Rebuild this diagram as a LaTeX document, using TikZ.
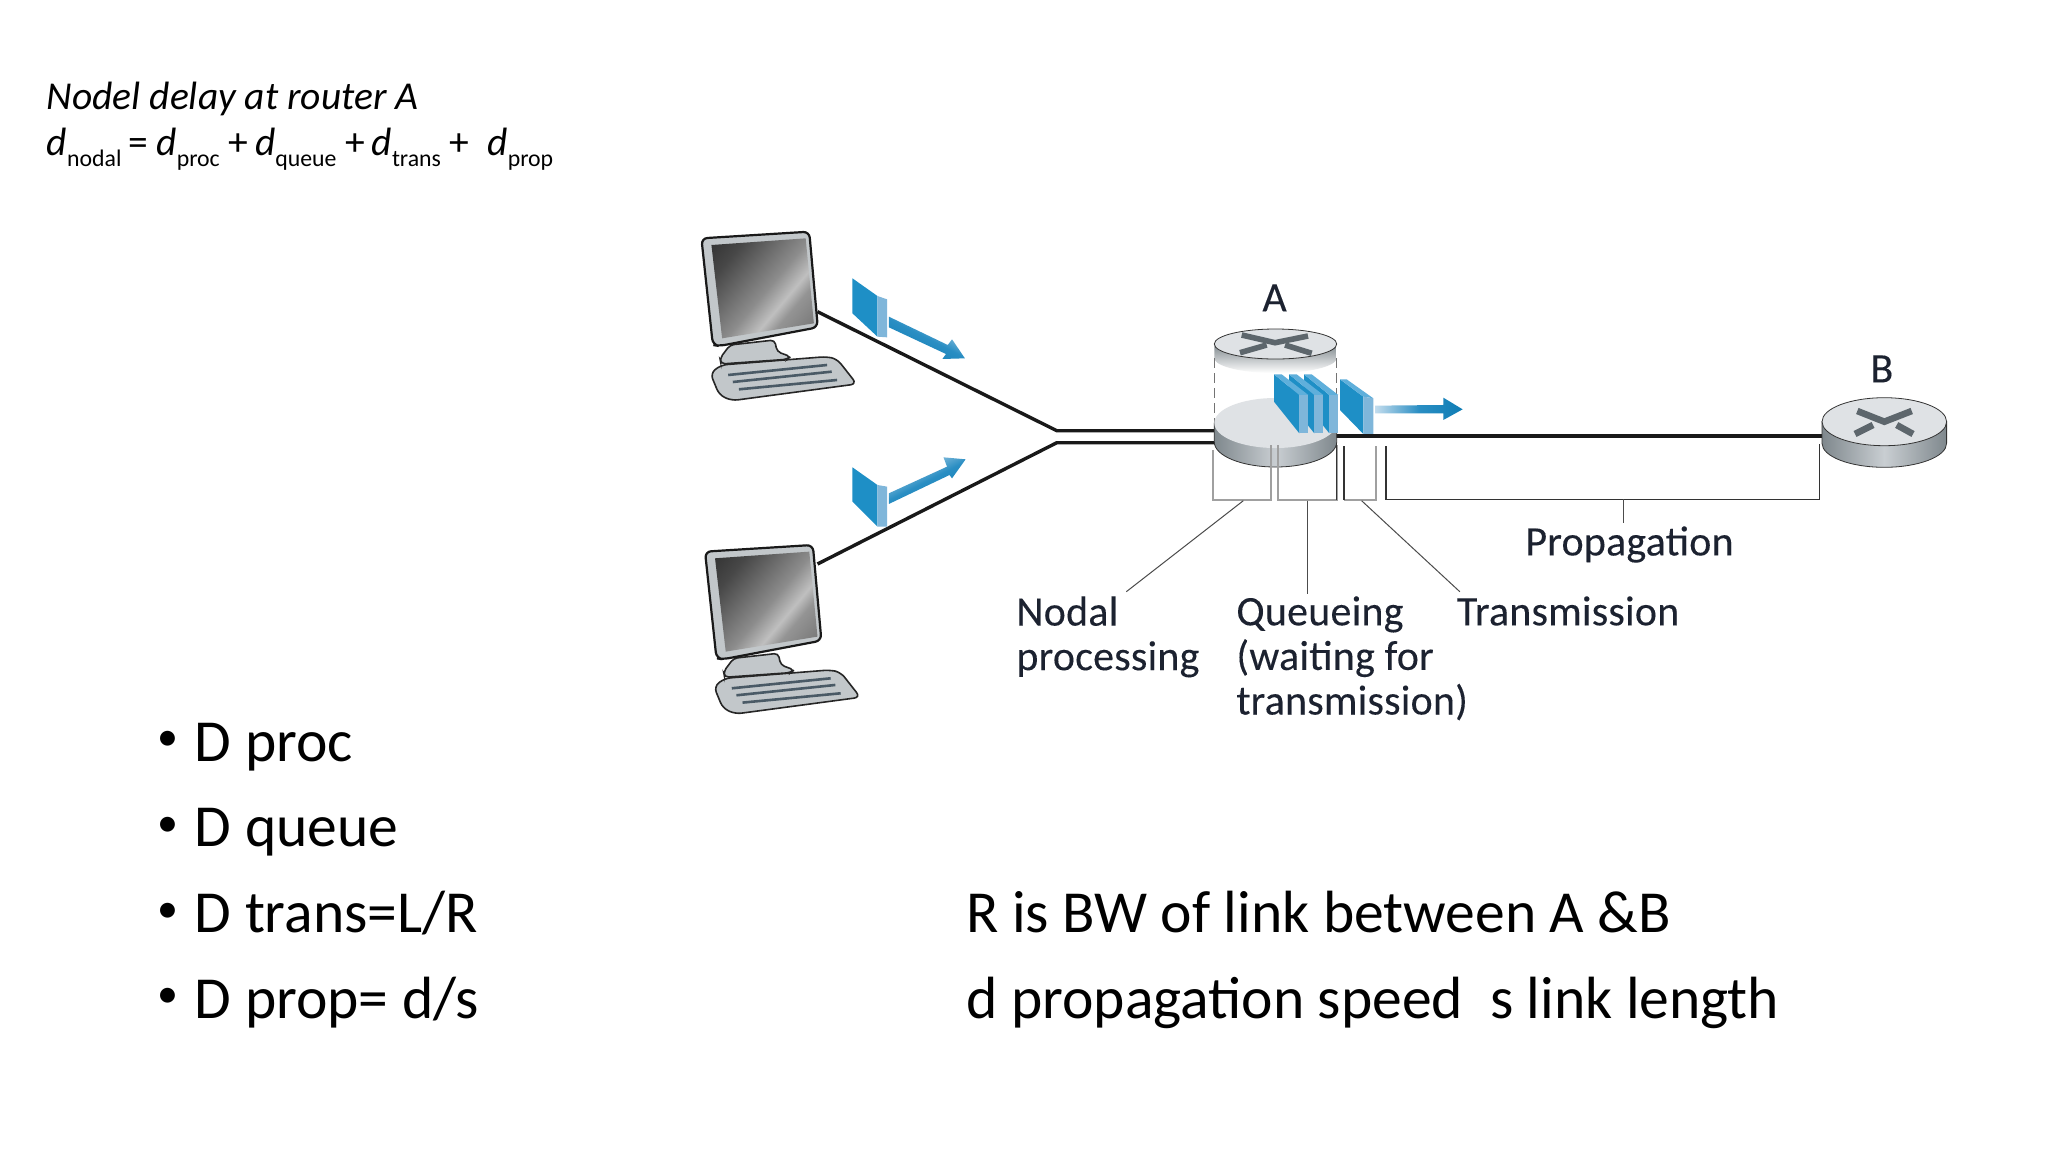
\documentclass[tikz,border=0pt]{standalone}
\usepackage{fontspec}
\setmainfont{Carlito}
\newfontfamily\labelfont{Carlito}[LetterSpace=0.5,FakeBold=0.15]
\definecolor{pktdark}{HTML}{1E8FC6}
\definecolor{pktlight}{HTML}{7FB6DA}
\definecolor{pkttop}{HTML}{5FAFDB}
\definecolor{arrowblue}{HTML}{0F7DB5}
\definecolor{arrowmid}{HTML}{2A8EC3}
\definecolor{arrowpale}{HTML}{C4DDEE}
\definecolor{rtop}{HTML}{DFE2E5}
\definecolor{rside}{HTML}{7F888D}
\definecolor{rmid}{HTML}{C9CED2}
\definecolor{rx}{HTML}{5D666C}
\definecolor{pcbody}{HTML}{C2C7CA}
\definecolor{keys}{HTML}{4A5A66}
\definecolor{inkblue}{HTML}{1C2230}
\definecolor{brgray}{HTML}{A0A0A0}
\pgfdeclarehorizontalshading{screenshade}{100bp}{color(0bp)=(black!90);color(28bp)=(black!72);color(52bp)=(black!45);color(62bp)=(black!25);color(68bp)=(black!42);color(100bp)=(black!68)}
\tikzset{
  link/.style={line width=1.7pt,draw=black!90},
  bracket/.style={line width=1pt,draw=brgray},
  darkleg/.style={line width=0.7pt,draw=black!80},
  leader/.style={line width=0.5pt,draw=black!70},
  caption/.style={font=\labelfont\fontsize{21}{22.3}\selectfont,text=inkblue,inner sep=0pt,align=left,anchor=north west},
  bodytext/.style={font=\fontsize{29.8}{34}\selectfont,text=black,inner sep=0pt,anchor=base west},
  dot/.style={font=\fontsize{21}{24}\selectfont,text=black,inner sep=0pt,anchor=base},
  head/.style={font=\fontsize{19.75}{24}\selectfont,text=black,inner sep=0pt,anchor=base west},
  pface/.style={fill=pktdark,draw=none},
  pside/.style={fill=pktlight,draw=none},
  ptop/.style={fill=pkttop,draw=none},
  keyline/.style={line width=1.3pt,draw=keys},
  rcrossA/.style={draw=rx,line width=2.8pt},
  rcrossB/.style={draw=rx,line width=3.3pt},
  pktarrow/.style={left color=arrowpale,right color=arrowblue,middle color=arrowmid},
}
\newcommand{\sbs}[1]{\raisebox{-0.3em}{\upshape\fontsize{11.9}{14}\selectfont #1}}
\newcommand{\computer}[2]{%
\begin{scope}[shift={(#1,#2)},xscale=0.357,yscale=0.3333]
 \fill[pcbody,draw=black!85,line width=0.8pt,rounded corners=3pt] (85,490) -- (115,465) -- (410,440) -- (440,447) -- (495,522) -- (145,572) -- (110,555) -- cycle;
 \draw[keyline] (135,495) -- (412,465);
 \draw[keyline] (148,516) -- (425,485);
 \draw[keyline] (165,538) -- (440,510);
 \fill[pcbody,draw=black!85,line width=0.8pt,rounded corners=2pt] (140,405) -- (265,390) -- (272,425) -- (310,440) -- (300,448) -- (115,462) -- (112,445) -- cycle;
 \fill[pcbody,draw=black!90,line width=1.1pt,rounded corners=3pt] (60,85) -- (362,65) -- (386,352) -- (110,408) -- (92,405) -- cycle;
 \shade[shading=screenshade,shading angle=-40] (88,105) -- (352,85) -- (375,340) -- (118,385) -- cycle;
\end{scope}}
\begin{document}
\begin{tikzpicture}[x=0.5pt,y=-0.5pt]
\useasboundingbox (0,0) rectangle (2048,1152);
\fill[white] (0,0) rectangle (2048,1152);
% header
\node[head] (title) at (46.5,109) {\itshape Nodel delay at router A};
\node[head] (formula) at (46.5,155) {\itshape d\sbs{nodal}\,\upshape =\,\kern1pt\itshape d\sbs{proc} \upshape +\,\itshape d\sbs{queue} \upshape +\,\itshape d\sbs{trans} \upshape + ~\itshape d\sbs{prop}};
% anchor points
\coordinate (pcA) at (817.5,311.7);
\coordinate (pcB) at (817.5,564);
\coordinate (joinA) at (1056.8,430.7);
\coordinate (joinB) at (1056.8,442.7);
\coordinate (inA) at (1216,430.7);
\coordinate (inB) at (1216,442.7);
\coordinate (outA) at (1330,436);
\coordinate (inRB) at (1823,436);
% computers
\computer{680}{210}
\computer{683.6}{523.3}
% links
\draw[link] (pcA) -- (joinA) -- (inA);
\draw[link] (pcB) -- (joinB) -- (inB);
\draw[link] (outA) -- (inRB);
% router A
\shade[top color=rside,bottom color=white] (1214.3,344) -- (1214.3,358) arc[start angle=180,end angle=360,x radius=61.2,y radius=-15] -- (1336.7,344) -- cycle;
\fill[rtop,draw=black!80,line width=0.4pt] (1275.5,344) ellipse[x radius=61.2,y radius=15];
\draw[rcrossA] (1241.7,335) -- (1275,342.7) -- (1308,336);
\draw[rcrossA] (1240,352.7) -- (1266.7,345);
\draw[rcrossA] (1311.7,353.3) -- (1285,345);
\draw[black!55,line width=0.5pt,dash pattern=on 5pt off 2.5pt] (1214.3,358) -- (1214.3,425);
\draw[black!55,line width=0.5pt,dash pattern=on 5pt off 2.5pt] (1336.7,358) -- (1336.7,425);
\shade[left color=rside,right color=rside,middle color=rmid,draw=black!80,line width=0.4pt] (1214.3,423) -- (1214.3,442) arc[start angle=180,end angle=360,x radius=61.2,y radius=-25] -- (1336.7,423) -- cycle;
\fill[rtop] (1275.5,423) ellipse[x radius=61.2,y radius=25];
% packets in queue
\foreach \dx in {90,45,0}{
 \begin{scope}[shift={(1180+\dx/3,260)},xscale=0.3333,yscale=0.3333]
  \fill[pface] (282,343) -- (282,425) -- (358,520) -- (358,405) -- cycle;
  \fill[ptop] (282,343) -- (305,343) -- (385,405) -- (358,405) -- cycle;
  \fill[pside] (358,405) -- (385,405) -- (385,520) -- (358,520) -- cycle;
 \end{scope}}
\begin{scope}[shift={(1180,260)},xscale=0.3333,yscale=0.3333]
  \fill[pface] (480,358) -- (480,450) -- (550,522) -- (550,410) -- cycle;
  \fill[ptop] (480,358) -- (500,358) -- (580,415) -- (550,410) -- cycle;
  \fill[pside] (550,410) -- (580,415) -- (580,522) -- (550,522) -- cycle;
  \shade[pktarrow] (585,437) -- (790,435) -- (790,413) -- (848,448) -- (790,480) -- (790,460) -- (585,460) -- cycle;
\end{scope}
% packet 1 and 2
\begin{scope}[shift={(680,210)},xscale=0.357,yscale=0.3333]
  \fill[pface] (483,205) -- (483,310) -- (553,380) -- (553,258) -- cycle;
  \fill[pside] (553,258) -- (580,268) -- (580,382) -- (553,380) -- cycle;
  \shade[pktarrow,shading angle=-27] (585,320) -- (750,405) -- (762,388) -- (798,445) -- (735,447) -- (745,432) -- (585,352) -- cycle;
  \fill[pface] (483,772) -- (483,875) -- (553,950) -- (553,825) -- cycle;
  \fill[pside] (553,825) -- (580,830) -- (580,950) -- (553,950) -- cycle;
  \shade[pktarrow,shading angle=27] (585,850) -- (748,770) -- (738,742) -- (800,748) -- (762,805) -- (755,795) -- (585,882) -- cycle;
\end{scope}
% router B
\shade[left color=rside,right color=rside,middle color=rmid,draw=black!80,line width=0.4pt] (1822,421.7) -- (1822,443.3) arc[start angle=180,end angle=360,x radius=62.3,y radius=-24] -- (1946.6,421.7) -- cycle;
\fill[rtop,draw=black!80,line width=0.4pt] (1884.3,421.7) ellipse[x radius=62.3,y radius=24];
\draw[rcrossB] (1857.3,411) -- (1884.3,421.7) -- (1911.7,411);
\draw[rcrossB] (1855,434) -- (1873,425);
\draw[rcrossB] (1913,434) -- (1896.7,425);
% brackets
\coordinate (nodalL) at (1213.3,450);
\coordinate (nodalR) at (1270.7,445);
\coordinate (nodalBL) at (1213.3,500);
\coordinate (nodalBR) at (1270.7,500);
\coordinate (queueL) at (1278.3,445);
\coordinate (queueR) at (1336.7,445);
\coordinate (queueBL) at (1278.3,500);
\coordinate (queueBR) at (1336.7,500);
\coordinate (transL) at (1344,446);
\coordinate (transR) at (1376,446);
\coordinate (transBL) at (1344,500);
\coordinate (transBR) at (1376,500);
\coordinate (propL) at (1386,446);
\coordinate (propR) at (1819.3,444);
\coordinate (propBL) at (1386,499.3);
\coordinate (propBR) at (1819.3,499.3);
\draw[bracket] (nodalL) -- (nodalBL) -- (nodalBR) -- (nodalR);
\draw[bracket] (queueL) -- (queueBL) -- (queueBR) -- (queueR);
\draw[bracket] (transBL) -- (transBR) -- (transR);
\draw[darkleg] (transL) -- (transBL);
\draw[darkleg] (queueR) -- (queueBR);
\draw[darkleg] (propL) -- (propBL) -- (propBR) -- (propR);
% labels
\node[caption] (lblA) at (1262,284) {A};
\node[caption] (lblB) at (1870,355) {B};
\node[caption] (lblNodal) at (1016,596) {Nodal\\processing};
\node[caption] (lblQueue) at (1236,596) {Queueing\\(waiting for\\transmission)};
\node[caption] (lblTrans) at (1456.5,596) {Transmission};
\node[caption] (lblProp) at (1525,526) {Propagation};
\coordinate (stemN) at (1243.3,500.7);
\coordinate (stemQ) at (1307,500.7);
\coordinate (stemT) at (1361.6,500.7);
\coordinate (stemP) at (1623.7,499.3);
\coordinate (endN) at (1126.3,591.7);
\coordinate (endQ) at (1307,594);
\coordinate (endT) at (1459.8,591.7);
\coordinate (endP) at (1623.7,523);
\draw[leader] (stemN) -- (endN);
\draw[leader] (stemQ) -- (endQ);
\draw[leader] (stemT) -- (endT);
\draw[leader] (stemP) -- (endP);
% bullets
\node[dot] (b1) at (168,750) {•};
\node[bodytext] (t1) at (194.5,761) {D proc};
\node[dot] (b2) at (168,836) {•};
\node[bodytext] (t2) at (194.5,846.7) {D queue};
\node[dot] (b3) at (168,922) {•};
\node[bodytext] (t3) at (194.5,932.7) {D trans=L/R};
\node[dot] (b4) at (168,1007) {•};
\node[bodytext] (t4) at (194.5,1018) {D prop= d/s};
\node[bodytext] (r1) at (966,932.7) {R is BW of link between A \&B};
\node[bodytext] (r2) at (966,1018) {d propagation speed~ s link length};
\end{tikzpicture}
\end{document}
